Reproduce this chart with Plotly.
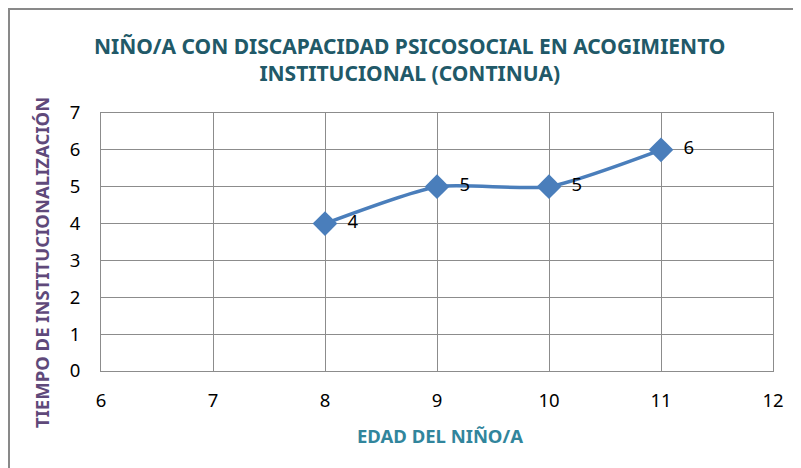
import plotly.graph_objects as go

edad = [8, 9, 10, 11]
tiempo = [4, 5, 5, 6]
x_ticks = [6, 7, 8, 9, 10, 11, 12]
y_ticks = [0, 1, 2, 3, 4, 5, 6, 7]

FONT = "Noto Sans, Open Sans, sans-serif"

# page pixel geometry (the html body adds an 8px offset)
OFF = 8
W, H = 801 - OFF, 468 - OFF
PL, PR, PT, PB = 101, 773, 113, 371  # plot area in page pixels
L, R, T, B = PL - OFF, (W + OFF) - PR, PT - OFF, (H + OFF) - PB
pw, ph = PR - PL, PB - PT


def px(x):
    return (x - PL) / pw


def py(y):
    return (PB - y) / ph


fig = go.Figure()
fig.add_trace(go.Scatter(
    x=edad, y=tiempo, mode="lines+markers+text",
    line=dict(color="#4A7EBB", width=3.5, shape="spline", smoothing=0.6),
    marker=dict(symbol="diamond", size=19, color="#4A7EBB"),
    text=["  " + str(v) for v in tiempo], textposition="middle right",
    textfont=dict(size=18.5, color="#000000", family=FONT),
    hoverinfo="skip", showlegend=False,
))

fig.update_layout(
    width=W, height=H,
    margin=dict(l=L, r=R, t=T, b=B),
    paper_bgcolor="white", plot_bgcolor="white",
    xaxis=dict(
        range=[6, 12], tickvals=x_ticks, ticktext=[str(v) for v in x_ticks],
        showgrid=True, gridcolor="#8C8C8C", gridwidth=1,
        showline=True, linecolor="#8C8C8C", mirror=True,
        ticks="", zeroline=False, ticklabelstandoff=13,
        tickfont=dict(size=18.5, color="#000000", family=FONT),
    ),
    yaxis=dict(
        range=[0, 7], tickvals=y_ticks, ticktext=[str(v) for v in y_ticks],
        showgrid=True, gridcolor="#8C8C8C", gridwidth=1,
        showline=True, linecolor="#8C8C8C", mirror=True,
        ticks="", zeroline=False, ticklabelstandoff=16,
        tickfont=dict(size=18.5, color="#000000", family=FONT),
    ),
    annotations=[
        dict(text="NIÑO/A CON DISCAPACIDAD PSICOSOCIAL EN ACOGIMIENTO<br>INSTITUCIONAL (CONTINUA)",
             xref="paper", yref="paper", x=px(409), y=py(59),
             xanchor="center", yanchor="middle", showarrow=False,
             font=dict(size=21, color="#215968", family=FONT, weight="bold")),
        dict(text="EDAD DEL NIÑO/A",
             xref="paper", yref="paper", x=px(440), y=py(435),
             xanchor="center", yanchor="middle", showarrow=False,
             font=dict(size=18.5, color="#31859C", family=FONT, weight="bold")),
        dict(text="TIEMPO DE INSTITUCIONALIZACIÓN", textangle=-90,
             xref="paper", yref="paper", x=px(42), y=py(263),
             xanchor="center", yanchor="middle", showarrow=False,
             font=dict(size=18.5, color="#5F497A", family=FONT, weight="bold")),
    ],
    shapes=[
        dict(type="line", xref="paper", yref="paper",
             x0=px(9), x1=px(9), y0=py(8), y1=py(480),
             line=dict(color="#898989", width=2)),
        dict(type="line", xref="paper", yref="paper",
             x0=px(8), x1=px(810), y0=py(9), y1=py(9),
             line=dict(color="#898989", width=2)),
    ],
)

fig.write_html("out.html")
